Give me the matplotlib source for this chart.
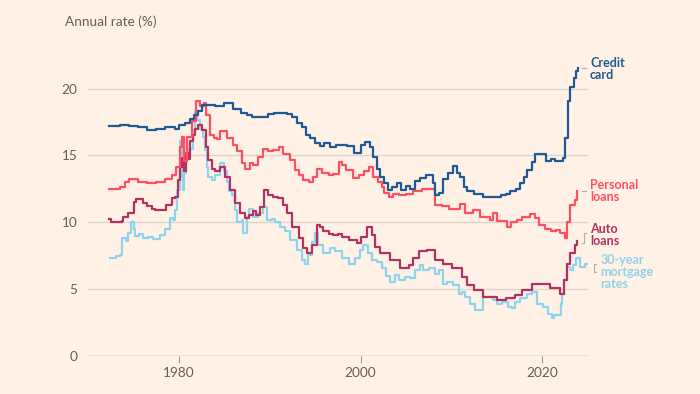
import matplotlib
matplotlib.use("Agg")
import matplotlib.pyplot as plt

# ===== Data =====
credit_years = [1972.3, 1973.5, 1974.5, 1975.5, 1976.5, 1977.5, 1978.5, 1979.5, 1980.0, 1980.7,
                1981.2, 1981.7, 1982.1, 1982.5, 1984.0, 1985.0, 1986.0, 1986.8, 1987.5, 1988.0,
                1989.8, 1990.5, 1991.9, 1992.5, 1993.0, 1993.5, 1994.0, 1994.4, 1995.0, 1995.5,
                1996.0, 1996.6, 1997.3, 1998.5, 1999.3, 2000.0, 2000.5, 2001.0, 2001.4, 2001.8,
                2002.2, 2002.6, 2003.0, 2003.5, 2004.0, 2004.5, 2005.0, 2005.5, 2006.0, 2006.5,
                2007.2, 2008.0, 2008.2, 2008.7, 2009.1, 2009.6, 2010.2, 2010.6, 2011.0, 2011.4,
                2011.7, 2012.5, 2013.5, 2015.5, 2016.0, 2016.5, 2017.1, 2017.6, 2018.0, 2018.3,
                2018.9, 2019.2, 2020.4, 2021.0, 2021.4, 2022.3, 2022.5, 2022.9, 2023.1, 2023.5,
                2023.7, 2023.96]
credit_rates = [17.2, 17.3, 17.2, 17.1, 16.9, 17.0, 17.1, 17.0, 17.3, 17.4,
                17.7, 18.0, 18.3, 18.8, 18.7, 18.9, 18.5, 18.2, 18.0, 17.9,
                18.1, 18.2, 18.1, 17.9, 17.4, 17.1, 16.5, 16.3, 15.9, 15.7,
                15.9, 15.6, 15.8, 15.7, 15.2, 15.8, 16.0, 15.6, 14.9, 14.0,
                13.4, 12.9, 12.4, 12.6, 12.9, 12.4, 12.7, 12.5, 13.1, 13.3,
                13.5, 12.9, 12.0, 12.2, 13.2, 13.7, 14.2, 13.7, 13.4, 12.6,
                12.3, 12.1, 11.9, 12.0, 12.1, 12.3, 12.5, 12.9, 13.4, 13.9,
                14.5, 15.1, 14.6, 14.7, 14.6, 14.8, 16.3, 19.1, 20.1, 20.8,
                21.3, 21.5]

personal_years = [1972.3, 1973.5, 1974.0, 1974.5, 1975.5, 1976.5, 1977.5, 1978.5, 1979.2, 1979.7,
                  1980.1, 1980.3, 1980.6, 1980.9, 1981.4, 1981.9, 1982.3, 1982.7, 1983.0, 1983.4,
                  1983.8, 1984.2, 1984.5, 1985.3, 1986.0, 1986.4, 1986.9, 1987.3, 1987.8, 1988.2,
                  1988.7, 1989.2, 1989.8, 1990.3, 1991.0, 1991.5, 1992.2, 1992.8, 1993.2, 1993.7,
                  1994.3, 1994.8, 1995.2, 1995.8, 1996.5, 1997.0, 1997.6, 1998.0, 1998.4, 1999.2,
                  1999.8, 2000.4, 2000.9, 2001.4, 2001.9, 2002.35, 2002.6, 2003.1, 2003.6, 2004.2,
                  2005.0, 2005.8, 2006.8, 2008.2, 2009.0, 2009.8, 2011.0, 2011.5, 2012.4, 2013.2,
                  2014.3, 2014.6, 2015.0, 2016.1, 2016.6, 2017.2, 2017.8, 2018.7, 2019.2, 2019.7,
                  2020.35, 2021.0, 2021.5, 2022.0, 2022.5, 2022.7, 2023.1, 2023.6, 2023.85]
personal_rates = [12.5, 12.6, 13.0, 13.2, 13.0, 12.9, 13.0, 13.2, 13.5, 14.1,
                  15.6, 16.4, 14.6, 16.4, 17.6, 19.1, 18.7, 18.9, 18.0, 16.5,
                  16.3, 16.2, 16.8, 16.3, 15.8, 15.3, 14.4, 14.0, 14.4, 14.3,
                  14.9, 15.5, 15.3, 15.4, 15.6, 15.1, 14.65, 13.9, 13.5, 13.15,
                  13.0, 13.4, 14.0, 13.7, 13.5, 13.6, 14.5, 14.3, 13.9, 13.3,
                  13.5, 13.8, 14.1, 13.4, 13.0, 12.65, 12.2, 11.9, 12.1, 12.0,
                  12.1, 12.3, 12.5, 11.3, 11.2, 11.0, 11.35, 10.65, 10.9, 10.4,
                  10.15, 10.65, 10.1, 9.65, 10.0, 10.15, 10.4, 10.6, 10.3, 9.8,
                  9.5, 9.3, 9.4, 9.15, 8.8, 10.0, 11.3, 11.65, 12.3]

auto_years = [1972.3, 1972.5, 1973.7, 1973.85, 1974.4, 1975.0, 1975.3, 1976.0, 1976.5, 1977.0,
              1977.4, 1978.6, 1979.2, 1979.55, 1979.9, 1980.1, 1980.3, 1980.55, 1980.8, 1981.0,
              1981.2, 1981.5, 1981.8, 1982.1, 1982.5, 1983.0, 1983.2, 1983.6, 1984.0, 1984.5,
              1985.1, 1985.6, 1986.2, 1986.7, 1987.3, 1987.7, 1988.2, 1988.5, 1988.9, 1989.4,
              1989.85, 1990.4, 1990.95, 1991.5, 1991.9, 1992.4, 1993.2, 1993.7, 1994.15, 1994.6,
              1995.2, 1995.5, 1995.9, 1996.5, 1997.0, 1997.5, 1998.0, 1998.7, 1999.6, 2000.1,
              2000.75, 2001.25, 2001.6, 2002.2, 2003.3, 2004.4, 2005.3, 2005.8, 2006.4, 2007.3,
              2008.2, 2009.1, 2010.05, 2011.2, 2011.7, 2012.45, 2013.55, 2015.0, 2016.0, 2017.05,
              2017.8, 2018.9, 2020.0, 2020.9, 2021.8, 2022.0, 2022.4, 2022.7, 2023.1, 2023.6,
              2023.9]
auto_rates = [10.2, 10.0, 10.1, 10.4, 10.65, 11.5, 11.7, 11.4, 11.2, 11.0,
              10.9, 11.3, 11.8, 11.9, 13.15, 14.1, 14.8, 13.8, 15.15, 14.7,
              16.1, 16.5, 17.0, 17.3, 16.9, 15.65, 14.65, 14.0, 13.8, 14.15,
              13.4, 12.4, 11.4, 10.65, 10.3, 10.5, 10.8, 10.5, 11.15, 12.4,
              12.0, 11.9, 11.8, 11.3, 10.65, 9.65, 8.8, 8.05, 7.65, 8.3,
              9.8, 9.6, 9.3, 9.1, 9.05, 9.1, 8.9, 8.65, 8.4, 8.9,
              9.65, 9.05, 8.15, 7.65, 7.15, 6.55, 6.8, 7.3, 7.8, 7.9,
              7.15, 6.9, 6.55, 5.9, 5.3, 4.9, 4.4, 4.2, 4.35, 4.55,
              4.9, 5.4, 5.35, 5.05, 5.1, 4.65, 5.65, 6.9, 7.65, 8.3,
              8.55]

mortgage_years = [1972.4, 1973.0, 1973.5, 1973.7, 1974.1, 1974.4, 1974.7, 1975.0, 1975.15, 1975.6,
                  1976.05, 1976.6, 1977.15, 1977.9, 1978.45, 1979.0, 1979.3, 1979.55, 1979.8, 1980.1,
                  1980.3, 1980.45, 1980.55, 1980.8, 1981.1, 1981.5, 1981.75, 1981.95, 1982.3, 1982.6,
                  1982.9, 1983.1, 1983.2, 1983.6, 1983.95, 1984.5, 1984.9, 1985.25, 1985.55, 1985.8,
                  1986.2, 1986.35, 1986.9, 1987.1, 1987.45, 1987.75, 1988.2, 1988.75, 1989.2, 1989.65,
                  1990.2, 1990.6, 1991.1, 1991.7, 1992.2, 1993.0, 1993.55, 1993.9, 1994.25, 1994.6,
                  1995.0, 1995.35, 1995.9, 1996.65, 1997.2, 1997.95, 1998.7, 1999.4, 1999.95, 2000.3,
                  2000.85, 2001.25, 2001.8, 2002.35, 2002.8, 2003.25, 2003.8, 2004.2, 2004.9, 2005.45,
                  2006.0, 2006.55, 2006.9, 2007.5, 2008.2, 2008.6, 2009.1, 2009.5, 2010.2, 2010.8,
                  2011.2, 2011.5, 2012.1, 2012.65, 2013.55, 2014.65, 2015.0, 2015.6, 2016.3, 2016.7,
                  2017.05, 2017.6, 2018.35, 2018.9, 2019.45, 2020.15, 2020.7, 2021.1, 2021.35, 2022.0,
                  2022.1, 2022.2, 2022.4, 2022.7, 2023.1, 2023.4, 2023.7, 2024.2, 2024.7, 2024.95]
mortgage_rates = [7.3, 7.45, 7.55, 8.8, 8.6, 9.15, 10.0, 9.5, 8.95, 9.1,
                  8.8, 8.9, 8.7, 9.0, 9.5, 10.3, 10.15, 10.9, 12.4, 16.1,
                  13.4, 12.4, 13.65, 14.8, 15.5, 16.9, 18.25, 17.65, 17.0, 16.4,
                  15.4, 14.15, 13.4, 13.15, 13.5, 14.4, 13.8, 13.0, 12.3, 12.0,
                  10.9, 10.0, 10.15, 9.15, 10.4, 11.0, 10.4, 10.65, 11.15, 10.15,
                  10.2, 10.0, 9.65, 9.3, 8.65, 7.9, 7.15, 6.9, 7.55, 8.5,
                  9.15, 8.3, 7.65, 8.05, 7.8, 7.3, 6.9, 7.3, 7.9, 8.3,
                  7.65, 7.15, 7.05, 6.55, 6.0, 5.55, 6.05, 5.65, 5.9, 5.8,
                  6.4, 6.8, 6.4, 6.55, 6.15, 6.4, 5.4, 5.5, 5.3, 4.65,
                  4.8, 4.4, 3.9, 3.4, 4.4, 4.15, 3.9, 4.0, 3.65, 3.55,
                  4.05, 4.3, 4.65, 4.8, 3.9, 3.65, 3.15, 2.8, 3.05, 3.05,
                  3.9, 4.65, 5.65, 6.65, 6.4, 6.8, 7.3, 6.65, 6.9, 6.9]

y_ticks = [0, 5, 10, 15, 20]
x_ticks = [1980, 2000, 2020]

# ===== Style =====
BG = "#fff1e5"
TEXT = "#66605c"
GRID = "#e0d5cb"
BASE = "#a39b94"
COL_CREDIT = "#1f5a96"
COL_PERSONAL = "#ff4f61"
COL_AUTO = "#b3325f"
COL_MORTGAGE = "#8fd3ec"

plt.rcParams["font.family"] = ["Lato", "DejaVu Sans"]


def draw_chart():
    fig = plt.figure(figsize=(7, 3.94), dpi=100, facecolor=BG)
    ax = fig.add_axes([88.3 / 700, 38.3 / 394, 500 / 700, 300.6 / 394])
    ax.set_facecolor(BG)

    ax.set_xlim(1970, 2025.1)
    ax.set_ylim(0, 22.5)

    for v in y_ticks[1:]:
        ax.axhline(v, color=GRID, lw=1.0, zorder=1)
    ax.axhline(0, color=BASE, lw=1.0, zorder=1)

    series = [
        (mortgage_years, mortgage_rates, COL_MORTGAGE),
        (auto_years, auto_rates, COL_AUTO),
        (personal_years, personal_rates, COL_PERSONAL),
        (credit_years, credit_rates, COL_CREDIT),
    ]
    for xs, ys, col in series:
        ax.plot(xs, ys, drawstyle="steps-post", color=col, lw=1.6, zorder=3)

    for s in ax.spines.values():
        s.set_visible(False)

    ax.set_yticks(y_ticks)
    ax.set_yticklabels([str(v) for v in y_ticks])
    ax.set_xticks(x_ticks)
    ax.set_xticklabels([str(v) for v in x_ticks])
    ax.tick_params(axis="y", length=0, pad=8, labelsize=9.8, labelcolor=TEXT)
    ax.tick_params(axis="x", length=5, width=0.8, color=BASE, pad=3,
                   labelsize=9.8, labelcolor=TEXT)

    fig.text(65 / 700, 1 - 22 / 394, "Annual rate (%)", color=TEXT,
             fontsize=9.8, va="center", ha="left")

    # Series labels at the right-hand end
    lab_x = 2025.3
    label_kw = dict(fontsize=9, fontweight="bold", va="center", ha="left",
                    clip_on=False, linespacing=1.0)
    ax.text(lab_x, 21.45, "Credit\ncard", color=COL_CREDIT, **label_kw)
    ax.text(lab_x, 12.3, "Personal\nloans", color=COL_PERSONAL, **label_kw)
    ax.text(lab_x, 9.0, "Auto\nloans", color=COL_AUTO, **label_kw)
    ax.text(lab_x + 1.1, 6.25, "30-year\nmortgage\nrates", color=COL_MORTGAGE, **label_kw)

    # small grey leader marks
    lead = dict(color="#b5ada6", lw=0.8, clip_on=False)
    ax.plot([2024.4, 2024.8], [credit_rates[-1], credit_rates[-1]], **lead)
    ax.plot([2024.4, 2024.8], [personal_rates[-1], personal_rates[-1]], **lead)
    ax.plot([2024.8, 2024.6, 2024.6, 2024.4], [9.2, 9.2, 8.45, 8.45], **lead)
    ax.plot([2025.9, 2025.7, 2025.7, 2025.9], [6.85, 6.85, 6.3, 6.3], **lead)

    fig.savefig("out.png", dpi=100, facecolor=BG)
    plt.close(fig)


if __name__ == "__main__":
    draw_chart()
